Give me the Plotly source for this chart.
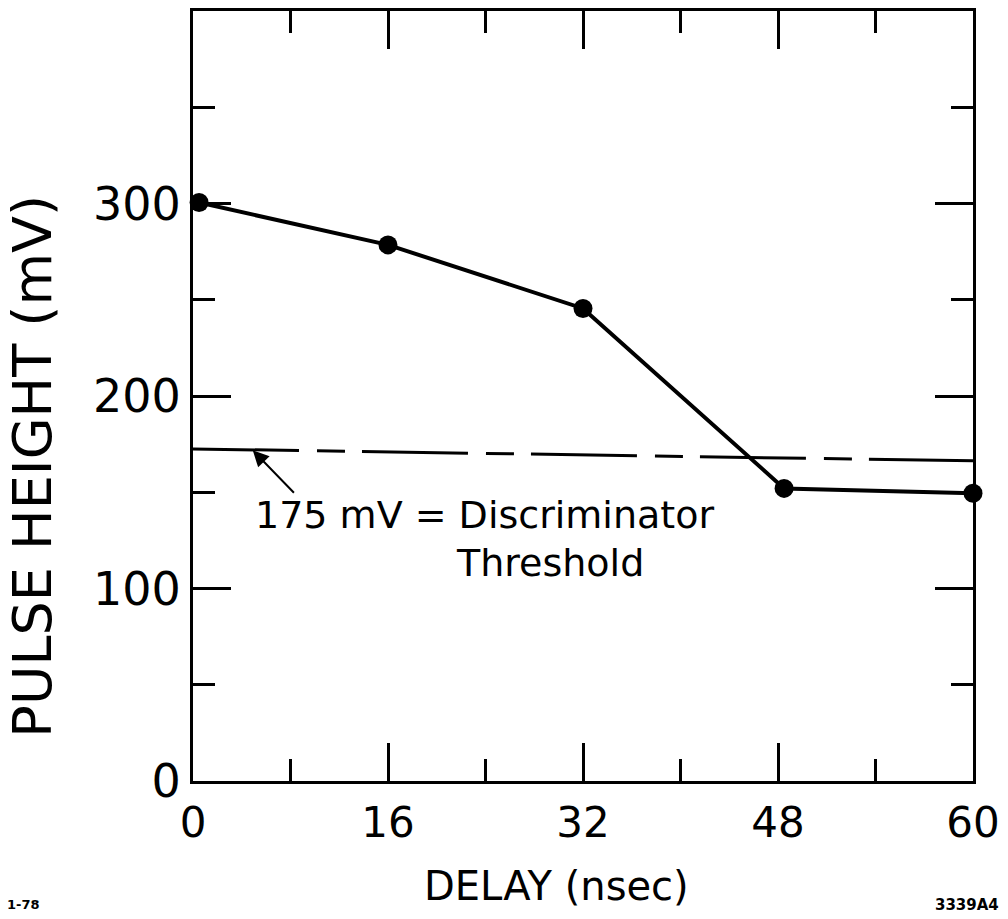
import plotly.graph_objects as go

# Data (x positions on the drawn scale: the "60" label sits at the 8th tick interval)
delay_pos = [0.5, 16, 32, 48.5, 64]
pulse_mv = [300.5, 278.5, 245.5, 152, 149.5]

threshold_x = [0, 64]
threshold_mv = [172.5, 166.3]

x_tickvals = [0, 16, 32, 48, 64]
x_ticktext = ["0", "16", "32", "48", "60"]
x_minor = [8, 24, 40, 56]
y_tickvals = [0, 100, 200, 300]
y_ticktext = ["0", "100", "200", "300"]
y_minor = [50, 150, 250, 350]

FONT = "DejaVu Sans"

fig = go.Figure()
fig.add_trace(go.Scatter(
    x=threshold_x, y=threshold_mv, mode="lines",
    line=dict(color="black", width=3, dash="106px,18px,28px,17px"),
    hoverinfo="skip", showlegend=False))
fig.add_trace(go.Scatter(
    x=delay_pos, y=pulse_mv, mode="lines+markers",
    line=dict(color="black", width=4),
    marker=dict(color="black", size=19),
    showlegend=False, cliponaxis=False))

axis_common = dict(
    showgrid=False, zeroline=False, showline=True, linecolor="black",
    linewidth=3, mirror="ticks", ticks="inside", tickcolor="black",
    tickwidth=2.5, ticklen=38,
)
fig.update_xaxes(range=[0, 64], tickmode="array", tickvals=x_tickvals,
                 ticktext=x_ticktext, ticklabelstandoff=3,
                 tickfont=dict(family=FONT, size=42, color="black"),
                 minor=dict(tickmode="array", tickvals=x_minor, ticks="inside",
                            ticklen=22, tickwidth=2.5, tickcolor="black"),
                 **axis_common)
fig.update_yaxes(range=[0, 400], tickmode="array", tickvals=y_tickvals,
                 ticktext=y_ticktext, ticklabelstandoff=0,
                 tickfont=dict(family=FONT, size=46, color="black"),
                 minor=dict(tickmode="array", tickvals=y_minor, ticks="inside",
                            ticklen=22, tickwidth=2.5, tickcolor="black"),
                 **axis_common)

annotations = [
    dict(x=4.9, y=171.8, ax=8.4, ay=149, xref="x", yref="y", axref="x", ayref="y",
         text="", showarrow=True, arrowhead=2, arrowsize=1.6, arrowwidth=2,
         arrowcolor="black"),
    dict(x=4.9, y=138, xref="x", yref="y", xanchor="left", yanchor="middle",
         text="175 mV = Discriminator", showarrow=False,
         font=dict(family=FONT, size=38, color="black")),
    dict(x=29.3, y=113.5, xref="x", yref="y", xanchor="center", yanchor="middle",
         text="Threshold", showarrow=False,
         font=dict(family=FONT, size=38, color="black")),
    dict(x=32, y=465, xref="paper", yref="paper", text="PULSE HEIGHT (mV)",
         textangle=-90, showarrow=False, xanchor="center", yanchor="middle",
         font=dict(family=FONT, size=54, color="black")),
    dict(x=557, y=886, xref="paper", yref="paper", text="DELAY (nsec)",
         showarrow=False, xanchor="center", yanchor="middle",
         font=dict(family=FONT, size=40, color="black")),
    dict(x=5, y=905, xref="paper", yref="paper", text="<b>1-78</b>",
         showarrow=False, xanchor="left", yanchor="middle",
         font=dict(family=FONT, size=13, color="black")),
    dict(x=935, y=905, xref="paper", yref="paper", text="<b>3339A4</b>",
         showarrow=False, xanchor="left", yanchor="middle",
         font=dict(family=FONT, size=15, color="black")),
]

# convert pixel positions of paper annotations to paper fractions
L, R, T, B = 193, 33, 8, 138
W, H = 1008, 919
pw, ph = W - L - R, H - T - B
for a in annotations:
    if a.get("xref") == "paper":
        a["x"] = (a["x"] - L) / pw
        a["y"] = 1 - (a["y"] - T) / ph

fig.update_layout(
    width=W, height=H,
    margin=dict(l=L, r=R, t=T, b=B, pad=0),
    paper_bgcolor="white", plot_bgcolor="white",
    annotations=annotations,
)

fig.write_html("out.html")
